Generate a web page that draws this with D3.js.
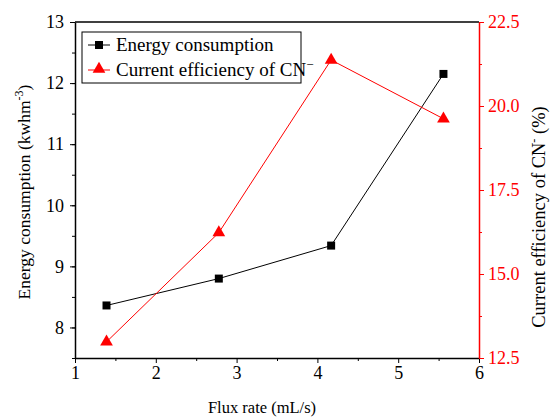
<!DOCTYPE html>
<html>
<head>
<meta charset="utf-8">
<script src="https://cdn.jsdelivr.net/npm/d3@7"></script>
<style>
  body { margin: 0; background: #fff; }
  svg text { font-family: "Liberation Serif", "Times New Roman", serif !important; }
</style>
</head>
<body>
<div id="chart"></div>
<script>
// data
var fluxRate = [1.39, 2.78, 4.17, 5.56];
var energy = [8.36, 8.80, 9.34, 12.15];
var efficiency = [12.98, 16.23, 21.37, 19.62];
var xTicks = [1, 2, 3, 4, 5, 6];
var leftTicks = [8, 9, 10, 11, 12, 13];
var rightTicks = [12.5, 15.0, 17.5, 20.0, 22.5];

var margin = { left: 75, top: 22, right: 71, bottom: 60 };
var W = 550, H = 418;
var width = W - margin.left - margin.right;
var height = H - margin.top - margin.bottom;

var svg = d3.select("#chart").append("svg")
  .attr("width", W).attr("height", H);
var g = svg.append("g")
  .attr("transform", "translate(" + margin.left + "," + margin.top + ")");

var x = d3.scaleLinear().domain([1, 6]).range([0, width]);
var yL = d3.scaleLinear().domain([7.5, 13]).range([height, 0]);
var yR = d3.scaleLinear().domain([12.5, 22.5]).range([height, 0]);

// minor ticks first
g.append("g").attr("transform", "translate(0," + height + ")")
  .call(d3.axisBottom(x).tickValues(d3.range(1.5, 6, 1)).tickSize(3).tickFormat(""))
  .call(s => s.select(".domain").remove());
g.append("g")
  .call(d3.axisLeft(yL).tickValues(d3.range(7.5, 13, 0.5)).tickSize(3).tickFormat(""))
  .call(s => s.select(".domain").remove());
g.append("g").attr("transform", "translate(" + width + ",0)")
  .call(d3.axisRight(yR).tickValues([13.75, 16.25, 18.75, 21.25]).tickSize(3).tickFormat(""))
  .call(s => s.selectAll("line").attr("stroke", "red"))
  .call(s => s.select(".domain").remove());

// main axes
var xa = g.append("g").attr("transform", "translate(0," + height + ")")
  .call(d3.axisBottom(x).tickValues(xTicks).tickFormat(d3.format("d"))
    .tickSize(5).tickPadding(3).tickSizeOuter(0));
var la = g.append("g")
  .call(d3.axisLeft(yL).tickValues(leftTicks).tickFormat(d3.format("d"))
    .tickSize(5).tickPadding(6).tickSizeOuter(0));
var ra = g.append("g").attr("transform", "translate(" + width + ",0)")
  .call(d3.axisRight(yR).tickValues(rightTicks).tickFormat(d3.format(".1f"))
    .tickSize(5).tickPadding(4).tickSizeOuter(0));

[xa, la, ra].forEach(function (a) {
  a.selectAll("text").style("font-size", "18px").attr("fill", "#000");
  a.select(".domain").attr("stroke-width", 1.5);
});
ra.selectAll("line").attr("stroke", "red");
ra.select(".domain").attr("stroke", "red");
ra.selectAll("text").attr("fill", "red");

// top border
g.append("line").attr("x1", 0).attr("x2", width).attr("y1", 0).attr("y2", 0)
  .attr("stroke", "#000").attr("stroke-width", 1.5);

// lines
var lineE = d3.line().x((d, i) => x(fluxRate[i])).y(d => yL(d));
var lineC = d3.line().x((d, i) => x(fluxRate[i])).y(d => yR(d));
g.append("path").datum(energy).attr("d", lineE)
  .attr("fill", "none").attr("stroke", "#000").attr("stroke-width", 1);
g.append("path").datum(efficiency).attr("d", lineC)
  .attr("fill", "none").attr("stroke", "red").attr("stroke-width", 1);

var sq = d3.symbol().type(d3.symbolSquare).size(64);
var tri = d3.symbol().type(d3.symbolTriangle).size(70);
g.selectAll(".sq").data(energy).enter().append("path")
  .attr("d", sq).attr("fill", "#000")
  .attr("transform", (d, i) => "translate(" + x(fluxRate[i]) + "," + yL(d) + ")");
g.selectAll(".tri").data(efficiency).enter().append("path")
  .attr("d", tri).attr("fill", "red")
  .attr("transform", (d, i) => "translate(" + x(fluxRate[i]) + "," + yR(d) + ")");

// legend
var lg = svg.append("g").attr("transform", "translate(82,32)");
lg.append("rect").attr("width", 219).attr("height", 51)
  .attr("fill", "#fff").attr("stroke", "#000").attr("stroke-width", 1);
lg.append("line").attr("x1", 6).attr("x2", 28).attr("y1", 13).attr("y2", 13).attr("stroke", "#000");
lg.append("path").attr("d", sq).attr("transform", "translate(17,13)").attr("fill", "#000");
lg.append("text").attr("x", 34).attr("y", 19).style("font-size", "19px").text("Energy consumption");
lg.append("line").attr("x1", 6).attr("x2", 28).attr("y1", 38).attr("y2", 38).attr("stroke", "red");
lg.append("path").attr("d", tri).attr("transform", "translate(17,37)").attr("fill", "red");
var t2 = lg.append("text").attr("x", 34).attr("y", 44).style("font-size", "19px").text("Current efficiency of CN");
t2.append("tspan").attr("dy", -7).style("font-size", "13px").text("\u2212");

// axis titles
svg.append("text").attr("x", 262).attr("y", 413)
  .attr("text-anchor", "middle").style("font-size", "16.5px").text("Flux rate (mL/s)");
var lt = svg.append("text").attr("transform", "translate(30,192) rotate(-90)")
  .attr("text-anchor", "middle").style("font-size", "17.5px").text("Energy consumption (kwhm");
lt.append("tspan").attr("dy", -7).style("font-size", "12px").text("-3");
lt.append("tspan").attr("dy", 7).text(")");
var rt = svg.append("text").attr("transform", "translate(545,217) rotate(-90)")
  .attr("text-anchor", "middle").style("font-size", "18.5px").text("Current efficiency of CN");
rt.append("tspan").attr("dy", -7).style("font-size", "12px").text("-");
rt.append("tspan").attr("dy", 7).text(" (%)");
</script>
</body>
</html>
